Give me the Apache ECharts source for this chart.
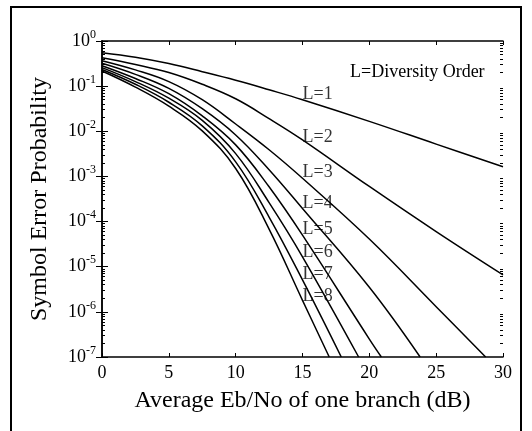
<!DOCTYPE html>
<html>
<head>
<meta charset="utf-8">
<script src="https://cdn.jsdelivr.net/npm/echarts@6/dist/echarts.min.js"></script>
<style>
  html, body { margin: 0; padding: 0; background: #fff; }
  #main { width: 532px; height: 431px; }
</style>
</head>
<body>
<div id="main"></div>
<script>
// Eb/No sample points (dB)
var ebno = [0, 2.5, 5, 7.5, 10, 12.5, 15, 20, 25, 30];
// symbol error probability, one array per diversity order
var serL1 = [0.55, 0.437, 0.316, 0.209, 0.135, 0.083, 0.050, 0.0166, 0.0052, 0.00164];
var serL2 = [0.427, 0.302, 0.2, 0.110, 0.0525, 0.0191, 0.00646, 6.0e-4, 6.0e-5, 6.6e-6];
var serL3 = [0.366, 0.229, 0.126, 0.050, 0.0145, 3.9e-3, 9.1e-4, 4.1e-5, 1.3e-6];
var serL4 = [0.32, 0.182, 0.089, 0.0316, 8.3e-3, 1.41e-3, 1.95e-4, 3.5e-6];
var serL5 = [0.284, 0.148, 0.068, 0.0219, 5.0e-3, 5.9e-4, 5.0e-5, 2.5e-7];
var serL6 = [0.257, 0.126, 0.054, 0.0174, 3.2e-3, 2.63e-4, 1.66e-5];
var serL7 = [0.234, 0.110, 0.044, 0.0132, 2.1e-3, 1.26e-4, 5.1e-6];
var serL8 = [0.216, 0.095, 0.036, 0.0102, 1.5e-3, 6.8e-5, 1.8e-6];
// where each curve leaves the bottom of the plot (at 1e-7)
var endEbno = [null, null, 28.7, 23.8, 20.9, 19.2, 17.9, 17.0];
var floorSer = 1e-7;
// curve labels "L=n", placed at 15 dB
var labelEbno = 15;
var labelSer = [0.066, 7.3e-3, 1.23e-3, 2.6e-4, 6.8e-5, 2.07e-5, 6.8e-6, 2.26e-6];

var allSer = [serL1, serL2, serL3, serL4, serL5, serL6, serL7, serL8];

var font = "'Liberation Serif', 'Times New Roman', serif";

// log-spaced minor tick positions (as log10 values) for the helper axes
var minorTicks = [];
for (var d = -7; d < 0; d++) {
  for (var m = 2; m <= 9; m++) minorTicks.push(d + Math.log10(m));
}

var series = allSer.map(function (vals, i) {
  var pts = vals.map(function (v, j) { return [ebno[j], v]; });
  if (endEbno[i] != null) pts.push([endEbno[i], floorSer]);
  return {
    name: 'L=' + (i + 1),
    type: 'line',
    data: pts,
    smooth: 0.4,
    symbol: 'none',
    xAxisIndex: 0,
    yAxisIndex: 0,
    lineStyle: { color: '#000', width: 1.5 },
    z: 3
  };
});

series.push({
  type: 'scatter',
  symbolSize: 0,
  xAxisIndex: 0,
  yAxisIndex: 0,
  data: labelSer.map(function (v, i) { return { value: [labelEbno, v], name: 'L=' + (i + 1) }; }),
  label: {
    show: true,
    formatter: '{b}',
    position: [0, 0],
    align: 'left',
    verticalAlign: 'middle',
    color: '#000',
    fontFamily: font,
    fontSize: 18
  },
  z: 4
});

var plotGrid = { left: 102, right: 29, top: 41, bottom: 74 };
var blackLine = { color: '#000', width: 1.5 };

var chart = echarts.init(document.getElementById('main'));
chart.setOption({
  animation: false,
  backgroundColor: '#fff',
  grid: [plotGrid, plotGrid],
  xAxis: [
    {
      type: 'value', min: 0, max: 30, interval: 5, position: 'bottom',
      name: 'Average Eb/No of one branch (dB)', nameLocation: 'middle', nameGap: 32,
      nameTextStyle: { color: '#000', fontFamily: font, fontSize: 24 },
      axisLine: { lineStyle: blackLine },
      axisTick: { inside: true, length: 4, lineStyle: { color: '#000' } },
      axisLabel: { color: '#000', fontFamily: font, fontSize: 18, margin: 7 },
      splitLine: { show: false }
    },
    {
      type: 'value', min: 0, max: 30, interval: 5, position: 'top',
      axisLine: { lineStyle: blackLine },
      axisTick: { inside: true, length: 4, lineStyle: { color: '#000' } },
      axisLabel: { show: false },
      splitLine: { show: false }
    },
    {
      gridIndex: 1, type: 'value', min: 0, max: 30, show: false
    }
  ],
  yAxis: [
    {
      type: 'log', logBase: 10, min: 1e-7, max: 1, position: 'left',
      name: 'Symbol Error Probability', nameLocation: 'middle', nameGap: 50,
      nameTextStyle: { color: '#000', fontFamily: font, fontSize: 24 },
      axisLine: { lineStyle: blackLine },
      axisTick: { inside: true, length: 6, lineStyle: { color: '#000' } },
      axisLabel: {
        margin: 6,
        formatter: function (v) {
          return '{b|10}{s|' + Math.round(Math.log10(v)) + '}';
        },
        rich: {
          b: { color: '#000', fontFamily: font, fontSize: 18 },
          s: { color: '#000', fontFamily: font, fontSize: 12, padding: [0, 0, 13, 0] }
        }
      },
      splitLine: { show: false }
    },
    {
      type: 'log', logBase: 10, min: 1e-7, max: 1, position: 'right',
      axisLine: { lineStyle: blackLine },
      axisTick: { inside: true, length: 6, lineStyle: { color: '#000' } },
      axisLabel: { show: false },
      splitLine: { show: false }
    },
    {
      gridIndex: 1, type: 'value', min: -7, max: 0, position: 'left',
      axisLine: { show: false },
      axisTick: { inside: true, length: 3, customValues: minorTicks, lineStyle: { color: '#000' } },
      axisLabel: { show: false },
      splitLine: { show: false }
    },
    {
      gridIndex: 1, type: 'value', min: -7, max: 0, position: 'right',
      axisLine: { show: false },
      axisTick: { inside: true, length: 3, customValues: minorTicks, lineStyle: { color: '#000' } },
      axisLabel: { show: false },
      splitLine: { show: false }
    }
  ],
  graphic: [
    {
      type: 'rect',
      shape: { x: 11, y: 7, width: 510, height: 440 },
      style: { fill: 'none', stroke: '#000', lineWidth: 2 },
      silent: true
    },
    {
      type: 'text',
      left: 350, top: 63,
      style: { text: 'L=Diversity Order', fill: '#000', font: '18px ' + font }
    }
  ],
  series: series
});
</script>
</body>
</html>
